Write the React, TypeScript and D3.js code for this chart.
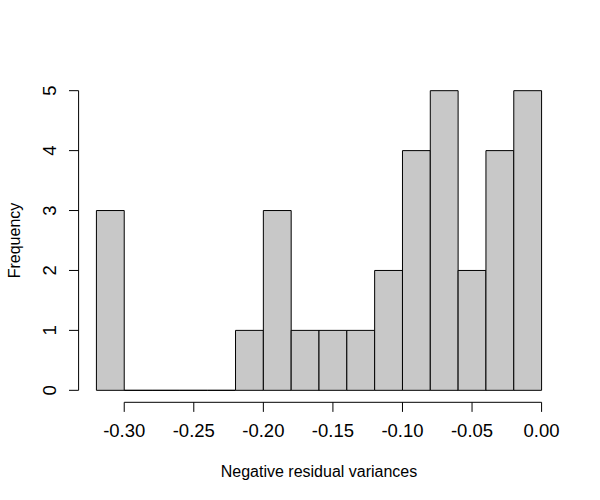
import * as d3 from "d3";

// Histogram bins (width 0.02)
const binStarts = [-0.32, -0.3, -0.28, -0.26, -0.24, -0.22, -0.2, -0.18, -0.16, -0.14, -0.12, -0.1, -0.08, -0.06, -0.04, -0.02];
const counts = [3, 0, 0, 0, 0, 1, 3, 1, 1, 1, 2, 4, 5, 2, 4, 5];
const binWidth = 0.02;

const xTicks = [-0.3, -0.25, -0.2, -0.15, -0.1, -0.05, 0];
const yTicks = [0, 1, 2, 3, 4, 5];

const W = 600;
const H = 500;
const PLOT = { left: 78.6, right: 559.4, top: 78.7, bottom: 402.3 };
const FONT = "'Liberation Sans', Arial, Helvetica, sans-serif";
const TICK = 9.6;

export default function App() {
  // R pads the data range by 4% on each side
  const x = d3.scaleLinear().domain([-0.3328, 0.0128]).range([PLOT.left, PLOT.right]);
  const y = d3.scaleLinear().domain([-0.2, 5.2]).range([PLOT.bottom, PLOT.top]);

  // plain hyphen like R, not the unicode minus d3 emits
  const fmt = (v: number) => d3.format(".2f")(v).replace("\u2212", "-");

  return (
    <svg
      width={W}
      height={H}
      viewBox={`0 0 ${W} ${H}`}
      style={{ position: "absolute", left: 0, top: 0, background: "#fff", fontFamily: FONT }}
    >
      <g>
        {binStarts.map((b, i) => {
          const x0 = x(b);
          const x1 = x(b + binWidth);
          const y0 = y(0);
          const y1 = y(counts[i]);
          // path instead of rect so empty bins still show as a line on the baseline
          return (
            <path
              key={i}
              d={`M${x0},${y0}L${x0},${y1}L${x1},${y1}L${x1},${y0}Z`}
              fill="#c8c8c8"
              stroke="#000"
              strokeWidth={1}
            />
          );
        })}
      </g>

      {/* x axis */}
      <g stroke="#000" strokeWidth={1}>
        <line x1={x(xTicks[0])} x2={x(xTicks[xTicks.length - 1])} y1={PLOT.bottom} y2={PLOT.bottom} />
        {xTicks.map((t) => (
          <line key={t} x1={x(t)} x2={x(t)} y1={PLOT.bottom} y2={PLOT.bottom + TICK} />
        ))}
      </g>
      {xTicks.map((t) => (
        <text key={t} x={x(t)} y={437} textAnchor="middle" fontSize={18.5} fill="#000">
          {fmt(t)}
        </text>
      ))}

      {/* y axis */}
      <g stroke="#000" strokeWidth={1}>
        <line x1={PLOT.left} x2={PLOT.left} y1={y(yTicks[0])} y2={y(yTicks[yTicks.length - 1])} />
        {yTicks.map((t) => (
          <line key={t} x1={PLOT.left - TICK} x2={PLOT.left} y1={y(t)} y2={y(t)} />
        ))}
      </g>
      {yTicks.map((t) => (
        <text
          key={t}
          transform={`translate(55.5,${y(t)}) rotate(-90)`}
          textAnchor="middle"
          fontSize={18.5}
          fill="#000"
        >
          {t}
        </text>
      ))}

      <text x={(PLOT.left + PLOT.right) / 2} y={477} textAnchor="middle" fontSize={16} fill="#000">
        Negative residual variances
      </text>
      <text
        transform={`translate(19.5,${(PLOT.top + PLOT.bottom) / 2}) rotate(-90)`}
        textAnchor="middle"
        fontSize={16}
        fill="#000"
      >
        Frequency
      </text>
    </svg>
  );
}
